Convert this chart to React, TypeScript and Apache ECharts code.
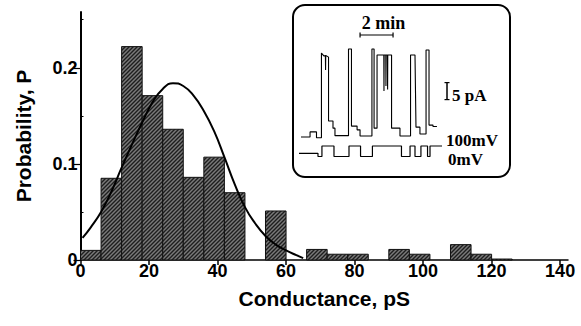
import React, { useEffect, useRef } from 'react';
import * as echarts from 'echarts';

// ---- Histogram data ----
const binWidth = 6;
const binStarts = [0, 6, 12, 18, 24, 30, 36, 42, 48, 54, 60, 66, 72, 78, 84, 90, 96, 102, 108, 114, 120];
const probabilities = [0.010, 0.085, 0.222, 0.171, 0.136, 0.086, 0.107, 0.070, 0, 0.051, 0, 0.011, 0.006, 0.006, 0, 0.011, 0.006, 0, 0.016, 0.006, 0.001];

// Fitted curve: [conductance pS, probability]
const fitCurve: [number, number][] = [
  [0.6, 0.023], [3, 0.034], [6, 0.050], [9, 0.071], [12, 0.096], [15, 0.120], [18, 0.143],
  [21, 0.164], [24, 0.178], [27, 0.184], [30, 0.181], [33, 0.171], [36, 0.155], [39, 0.134],
  [42, 0.107], [45, 0.079], [48, 0.055], [51, 0.038], [54, 0.025], [57, 0.016], [60, 0.010],
  [63, 0.005], [65, 0.002],
];

const xTickValues = [0, 20, 40, 60, 80, 100, 120, 140];
const yLabelValues = [0, 0.1, 0.2];
const yMinorTickValues = [0.05, 0.15, 0.25];

// ---- Inset data: time (min), current (pA), voltage (mV) ----
const currentTrace: [number, number][] = [
  [0.12, 0.0], [0.67, 0.0], [0.67, 1.5], [1.06, 1.5], [1.06, -0.2], [1.36, -0.2], [1.36, 24.7],
  [1.52, 23.8], [1.6, 24.0], [1.61, 19.7], [1.62, 24.0], [1.79, 23.5], [1.79, 4.7], [2.06, 4.7],
  [2.06, 2.6], [2.18, 2.6], [2.18, 0.4], [3.0, 0.4], [3.0, 25.9], [3.18, 25.9], [3.18, 3.2],
  [3.52, 3.2], [3.52, 2.1], [3.7, 2.1], [3.7, 0.3], [4.42, 0.3], [4.42, 25.9], [4.55, 25.9],
  [4.55, 2.6], [4.73, 2.6], [4.73, 24.1], [5.14, 24.1], [5.15, 13.5], [5.16, 24.1],
  [5.26, 24.1], [5.27, 15.0], [5.28, 24.1], [5.36, 24.1], [5.37, 14.0], [5.38, 24.1], [5.61, 24.1], [5.61, 2.6],
  [6.12, 2.6], [6.12, 0.3], [6.76, 0.3], [6.76, 24.1], [7.03, 24.1], [7.09, 2.9], [7.33, 2.9],
  [7.33, 0.9], [7.7, 0.9], [7.7, 25.6], [7.88, 25.6], [7.88, 3.5], [8.12, 3.5], [8.12, 3.1],
  [8.36, 3.1],
];
const voltageTrace: [number, number][] = [
  [0, 30], [1.15, 30], [1.15, 0], [1.39, 0], [1.39, 100], [2.12, 100], [2.12, 0], [3.03, 0],
  [3.03, 100], [3.73, 100], [3.73, 0], [4.45, 0], [4.45, 100], [6.21, 100], [6.21, 0], [6.73, 0],
  [6.73, 100], [7.03, 100], [7.03, 0], [7.39, 0], [7.39, 100], [7.79, 100], [7.79, 0], [7.94, 0],
  [7.94, 100], [8.67, 100],
];
const timeScaleBar: [number, number][] = [[3.7, 30], [5.7, 30]];
const currentScaleBar: [number, number][] = [[8.97, 11], [8.97, 16]];

const hatchSvg =
  "<svg xmlns='http://www.w3.org/2000/svg' width='4' height='4'>" +
  "<rect width='4' height='4' fill='%237a7a7a'/>" +
  "<path d='M-1,1 L1,-1 M0,4 L4,0 M3,5 L5,3' stroke='%231e1e1e' stroke-width='1.4'/></svg>";
const hatchUrl = 'data:image/svg+xml;utf8,' + hatchSvg;

const sans = '"Liberation Sans", Arial, sans-serif';
const serif = '"Liberation Serif", "Times New Roman", serif';

export default function App() {
  const ref = useRef<HTMLDivElement>(null);

  useEffect(() => {
    if (!ref.current) return;
    const chart = echarts.init(ref.current, null, { renderer: 'svg' });

    const barData = binStarts
      .map((s, i) => [s, s + binWidth, probabilities[i]])
      .filter((d) => d[2] > 0);

    const insetLeft = 299;
    const minPx = 16.5;
    const insetTMax = 9.2;
    const pAPx = 3.4;
    const mVPx = 0.105;

    const option: any = {
      animation: false,
      backgroundColor: '#ffffff',
      grid: [
        { left: 80.5, top: 12, width: 487.5, height: 248 },
        { left: insetLeft, top: 137 - 32 * pAPx, width: insetTMax * minPx, height: 39 * pAPx },
        { left: insetLeft, top: 146 - 20 * mVPx, width: insetTMax * minPx, height: 135 * mVPx },
      ],
      xAxis: [
        {
          type: 'value', gridIndex: 0, min: 0, max: 142.3,
          axisLine: { show: true, onZero: false, lineStyle: { color: '#000', width: 1.5 } },
          axisTick: { show: true, length: 5, customValues: xTickValues, lineStyle: { color: '#000', width: 1.5 } },
          axisLabel: {
            customValues: xTickValues, margin: 2, color: '#000',
            fontFamily: sans, fontWeight: 'bold', fontSize: 18,
          },
          splitLine: { show: false },
          name: 'Conductance, pS', nameLocation: 'middle', nameGap: 28,
          nameTextStyle: { color: '#000', fontFamily: sans, fontWeight: 'bold', fontSize: 21 },
        },
        { type: 'value', gridIndex: 1, min: 0, max: insetTMax, show: false },
        { type: 'value', gridIndex: 2, min: 0, max: insetTMax, show: false },
      ],
      yAxis: [
        {
          type: 'value', gridIndex: 0, min: 0, max: 0.258,
          axisLine: { show: true, onZero: false, lineStyle: { color: '#000', width: 2 } },
          axisTick: { show: true, length: 7, customValues: yLabelValues, lineStyle: { color: '#000', width: 1.2 } },
          axisLabel: {
            customValues: yLabelValues, margin: 3, color: '#000',
            fontFamily: sans, fontWeight: 'bold', fontSize: 18,
            formatter: (v: number) => (v === 0 ? '0' : v.toFixed(1)),
          },
          splitLine: { show: false },
          name: 'Probability, P', nameLocation: 'middle', nameGap: 47,
          nameTextStyle: { color: '#000', fontFamily: sans, fontWeight: 'bold', fontSize: 21 },
        },
        {
          type: 'value', gridIndex: 0, min: 0, max: 0.258,
          axisLine: { show: false },
          axisTick: { show: true, length: 3, customValues: yMinorTickValues, lineStyle: { color: '#000', width: 1 } },
          axisLabel: { show: false },
          splitLine: { show: false },
        },
        { type: 'value', gridIndex: 1, min: -7, max: 32, show: false },
        { type: 'value', gridIndex: 2, min: -15, max: 120, show: false },
      ],
      graphic: [
        {
          type: 'rect', z: 1,
          shape: { x: 293, y: 5, width: 217, height: 172, r: 12 },
          style: { fill: '#fff', stroke: '#000', lineWidth: 2 },
        },
        {
          type: 'text', z: 10, x: 383.5, y: 23,
          style: { text: '2 min', font: `bold 18px ${serif}`, fill: '#000', align: 'center', verticalAlign: 'middle' },
        },
        {
          type: 'text', z: 10, x: 452, y: 95,
          style: { text: '5 pA', font: `bold 17px ${serif}`, fill: '#000', align: 'left', verticalAlign: 'middle' },
        },
        {
          type: 'text', z: 10, x: 446, y: 140.5,
          style: { text: '100mV', font: `bold 17px ${serif}`, fill: '#000', align: 'left', verticalAlign: 'middle' },
        },
        {
          type: 'text', z: 10, x: 448, y: 159.5,
          style: { text: '0mV', font: `bold 17px ${serif}`, fill: '#000', align: 'left', verticalAlign: 'middle' },
        },
      ],
      series: [
        {
          type: 'custom', xAxisIndex: 0, yAxisIndex: 0,
          data: barData,
          encode: { x: [0, 1], y: 2 },
          renderItem: (_params: any, api: any) => {
            const p0 = api.coord([api.value(0), api.value(2)]);
            const p1 = api.coord([api.value(1), 0]);
            return {
              type: 'rect',
              shape: { x: p0[0], y: p0[1], width: p1[0] - p0[0], height: p1[1] - p0[1] },
              style: { fill: { image: hatchUrl, repeat: 'repeat' }, stroke: '#111', lineWidth: 1 },
            };
          },
        },
        {
          type: 'line', xAxisIndex: 0, yAxisIndex: 0, data: fitCurve, smooth: true,
          symbol: 'none', lineStyle: { color: '#000', width: 2 }, z: 5,
        },
        {
          type: 'line', xAxisIndex: 1, yAxisIndex: 2, data: currentTrace,
          symbol: 'none', lineStyle: { color: '#000', width: 1.1 }, z: 5,
        },
        {
          type: 'line', xAxisIndex: 2, yAxisIndex: 3, data: voltageTrace,
          symbol: 'none', lineStyle: { color: '#000', width: 1.2 }, z: 5,
        },
        {
          type: 'line', xAxisIndex: 1, yAxisIndex: 2, data: timeScaleBar,
          symbol: 'rect', symbolSize: [1.2, 5], itemStyle: { color: '#000' },
          lineStyle: { color: '#000', width: 1.2 }, z: 5,
        },
        {
          type: 'line', xAxisIndex: 1, yAxisIndex: 2, data: currentScaleBar,
          symbol: 'rect', symbolSize: [5, 1.2], itemStyle: { color: '#000' },
          lineStyle: { color: '#000', width: 1.5 }, z: 5,
        },
      ],
    };

    chart.setOption(option);
    return () => chart.dispose();
  }, []);

  return (
    <div
      ref={ref}
      style={{ position: 'fixed', left: 0, top: 0, width: 581, height: 326, background: '#fff' }}
    />
  );
}
